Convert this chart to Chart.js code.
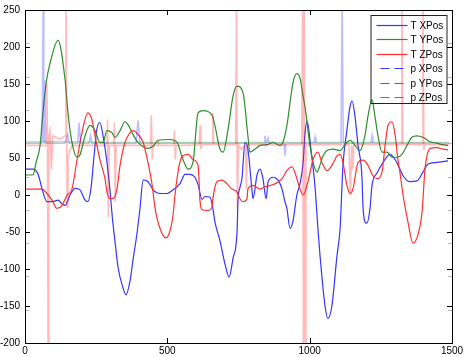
<!DOCTYPE html>
<html><head><meta charset="utf-8">
<script src="https://cdn.jsdelivr.net/npm/chart.js@4/dist/chart.umd.min.js"></script>
<style>html,body{margin:0;padding:0;background:#fff;}</style>
</head><body>
<canvas id="c" width="467" height="357"></canvas>
<script>
// ---- data ----
const xTicks = [0, 500, 1000, 1500];
const yTicks = [-200, -150, -100, -50, 0, 50, 100, 150, 200, 250];
const minorTicks = [1, 2, 3, 4, 5, 6, 7, 8, 9];
const seriesNames = ['T XPos', 'T YPos', 'T ZPos', 'p XPos', 'p YPos', 'p ZPos'];

const txT = [0,28,46,60,77,98,116,130,141,158,176,193,211,221,232,242,252,263,274,288,299,306,316,327,344,355,369,379,393,404,415,432,439,450,464,474,499,520,544,562,580,597,608,622,632,650,660,667,685,703,717,731,745,748,755,762,773,783,797,801,815,826,836,847,854,871,889,903,913,920,931,941,955,966,977,984,991,1005,1019,1029,1036,1054,1064,1078,1096,1107,1117,1131,1142,1149,1159,1170,1184,1187,1194,1201,1212,1219,1237,1258,1282,1300,1317,1328,1352,1377,1398,1416,1447,1468,1486];
const txV = [35,35,28,8,-9,-9,-7,-12,-14,0,9,7,-7,-9,10,50,88,98,80,44,5,-27,-62,-98,-125,-135,-116,-89,-53,-18,20,18,14,7,3,2,2,7,15,28,28,24,14,-6,-2,-3,-18,-36,-62,-94,-111,-85,-49,-9,10,22,71,62,8,-5,27,35,22,-5,18,24,20,8,-9,-18,-45,-36,0,15,44,85,100,60,10,-45,-80,-150,-167,-150,-82,-45,40,88,120,127,107,67,22,-13,-36,-38,-18,13,30,44,55,48,35,26,18,19,31,42,44,45,46];

const tyT = [0,28,39,53,63,74,88,116,141,151,165,183,193,211,228,246,263,274,288,306,316,334,351,362,379,397,429,450,467,509,534,555,573,590,608,625,657,667,685,696,713,731,745,766,783,790,808,826,850,871,896,906,920,941,955,966,977,987,998,1012,1026,1036,1047,1061,1082,1107,1124,1142,1159,1177,1194,1205,1219,1229,1240,1254,1272,1289,1307,1324,1342,1359,1377,1398,1423,1447,1465,1486];
const tyV = [27,27,44,67,111,151,178,209,155,111,71,51,54,80,94,87,71,71,87,84,78,87,99,95,82,71,63,66,74,75,71,48,35,44,111,114,108,94,62,58,88,134,147,138,80,58,62,67,68,71,67,71,94,151,164,158,134,110,75,44,31,40,53,60,62,60,68,74,67,60,80,107,129,107,80,58,58,51,51,55,67,78,80,78,72,70,68,67];

const tzT = [0,60,77,95,112,130,148,165,183,200,221,235,246,263,281,288,299,309,323,334,351,369,379,397,415,432,446,457,474,495,509,520,527,534,544,555,573,590,608,615,622,643,657,660,674,692,710,727,745,755,766,780,783,801,826,843,861,878,903,920,938,952,966,977,994,1012,1029,1043,1061,1078,1096,1107,1117,1131,1142,1152,1170,1187,1205,1222,1237,1254,1265,1275,1289,1300,1310,1317,1328,1345,1363,1381,1395,1405,1412,1423,1447,1468,1486];
const tzV = [8,8,2,-7,-18,-14,0,8,48,84,111,102,80,48,22,4,-5,-5,8,40,71,84,87,82,71,44,15,-18,-45,-58,-49,-27,0,22,44,53,55,48,40,-9,-20,-21,-16,-5,18,20,15,8,4,-5,-9,-5,8,13,8,11,13,15,22,33,38,26,8,0,18,48,58,44,33,40,53,55,44,13,2,8,44,47,40,26,22,31,67,94,99,82,48,31,0,-36,-65,-53,-22,35,53,63,64,62,61];

const pxT = [0,60,64,66,70,72,74,140,150,155,185,190,195,225,230,235,390,397,404,840,843,847,854,858,910,913,917,1015,1019,1022,1110,1114,1118,1215,1219,1222,1490];
const pxV = [70,70,260,70,155,70,70,70,82,70,70,98,70,70,80,70,70,101,70,70,80,68,77,70,70,53,70,70,78,70,70,260,70,70,80,70,70];

const pyT = [0,150,300,450,600,750,900,1050,1200,1350,1490];
const pyV = [72,72,71,71,71,71,71,71,71,71,71];

const pzT = [0,74,77,79,81,84,88,93,98,123,141,144,148,151,158,165,288,290,293,296,312,314,317,320,441,444,447,450,464,467,470,523,525,528,531,612,615,618,621,657,660,663,740,743,746,750,760,775,778,781,972,975,978,981,984,987,1138,1143,1148,1152,1155,1321,1324,1327,1395,1398,1401,1404,1490];
const pzV = [67,67,151,67,-210,80,87,35,80,75,80,260,-16,51,60,67,67,102,-30,67,67,98,-9,67,67,108,48,67,67,74,67,67,87,48,67,68,94,62,68,68,111,68,68,260,-20,68,62,68,8,68,68,260,-210,260,-210,68,68,0,68,35,68,68,260,68,68,260,61,68,68];

// ---- styles ----
const mainColors = ['#3535ff', '#2b8f2b', '#ff3030'];
const paleColors = ['rgba(40,40,255,0.30)', 'rgba(40,160,40,0.33)', 'rgba(255,30,30,0.30)'];

function pts(t, v) { return t.map((x, i) => ({x: x, y: v[i]})); }

Chart.defaults.font.family = '"Liberation Sans", Arial, sans-serif';
Chart.defaults.font.size = 10;
Chart.defaults.color = '#000';

const deco = {
  id: 'deco',
  afterDraw(chart) {
    const ctx = chart.ctx, a = chart.chartArea;
    const xs = chart.scales.x, ys = chart.scales.y, y2 = chart.scales.y2;
    ctx.save();
    ctx.setLineDash([]);
    ctx.lineWidth = 1;
    // secondary (gray) tick marks
    ctx.strokeStyle = '#b4b4b4';
    ctx.beginPath();
    for (const v of minorTicks) {
      const py = Math.round(y2.getPixelForValue(v)) + 0.5;
      ctx.moveTo(a.left, py); ctx.lineTo(a.left + 4, py);
      ctx.moveTo(a.right, py); ctx.lineTo(a.right - 4, py);
    }
    ctx.stroke();
    // major inward ticks
    ctx.strokeStyle = '#000';
    ctx.beginPath();
    for (const v of yTicks) {
      const py = Math.round(ys.getPixelForValue(v)) + 0.5;
      ctx.moveTo(a.left, py); ctx.lineTo(a.left + 5, py);
      ctx.moveTo(a.right, py); ctx.lineTo(a.right - 5, py);
    }
    for (const v of xTicks) {
      const px = Math.round(xs.getPixelForValue(v)) + 0.5;
      ctx.moveTo(px, a.bottom); ctx.lineTo(px, a.bottom - 5);
      ctx.moveTo(px, a.top); ctx.lineTo(px, a.top + 5);
    }
    ctx.stroke();
    ctx.strokeRect(a.left + 0.5, a.top + 0.5, a.right - a.left, a.bottom - a.top);
    // legend
    const lx = a.right - 81, ly = a.top + 5.5;
    ctx.strokeStyle = '#222';
    ctx.strokeRect(lx, ly, 76, 88);
    ctx.font = '10px "Liberation Sans", Arial, sans-serif';
    ctx.textBaseline = 'middle';
    ctx.textAlign = 'left';
    for (let i = 0; i < seriesNames.length; i++) {
      const ry = Math.round(ly + 9 + i * 14.5) + 0.5;
      const c = mainColors[i % 3];
      ctx.strokeStyle = c;
      ctx.lineWidth = 1.2;
      ctx.beginPath();
      if (i < 3) {
        ctx.setLineDash([]);
        ctx.moveTo(lx + 5.5, ry); ctx.lineTo(lx + 36.5, ry);
      } else {
        ctx.setLineDash([9, 5]);
        ctx.moveTo(lx + 9.5, ry); ctx.lineTo(lx + 33.5, ry);
      }
      ctx.stroke();
      ctx.setLineDash([]);
      ctx.fillStyle = '#000';
      ctx.fillText(seriesNames[i], lx + 39.5, ry + 0.5);
    }
    ctx.restore();
  }
};

function mainDs(i, t, v, order) {
  return { label: seriesNames[i], data: pts(t, v), borderColor: mainColors[i], borderWidth: 1.2,
    pointRadius: 0, fill: false, cubicInterpolationMode: 'monotone', order: order };
}
function paleDs(i, t, v, order) {
  return { label: seriesNames[i + 3], data: pts(t, v), borderColor: paleColors[i], borderWidth: 1.6,
    pointRadius: 0, fill: false, tension: 0, order: order };
}

new Chart(document.getElementById('c'), {
  type: 'line',
  data: {
    datasets: [
      mainDs(0, txT, txV, 3),
      mainDs(1, tyT, tyV, 2),
      mainDs(2, tzT, tzV, 1),
      paleDs(0, pxT, pxV, -1),
      paleDs(1, pyT, pyV, -2),
      paleDs(2, pzT, pzV, -3)
    ]
  },
  options: {
    responsive: false,
    animation: false,
    devicePixelRatio: 1,
    events: [],
    layout: { padding: { left: 0, right: 15, top: 6, bottom: 0 } },
    plugins: { legend: { display: false }, tooltip: { enabled: false } },
    scales: {
      x: {
        type: 'linear', min: 0, max: 1500,
        afterBuildTicks: s => { s.ticks = xTicks.map(v => ({ value: v })); },
        ticks: { padding: 3, maxRotation: 0, autoSkip: false, color: '#000', font: { size: 10, lineHeight: 1 },
          callback: v => String(v) },
        grid: { display: false, drawTicks: false },
        border: { display: false },
        afterFit: s => { s.height = 14; }
      },
      y: {
        type: 'linear', min: -200, max: 250,
        afterBuildTicks: s => { s.ticks = yTicks.map(v => ({ value: v })); },
        ticks: { padding: 5, autoSkip: false, color: '#000', font: { size: 10, lineHeight: 1 },
          callback: v => String(v) },
        grid: { display: false, drawTicks: false },
        border: { display: false },
        afterFit: s => { s.width = 25; }
      },
      y2: {
        type: 'linear', position: 'right', min: 0, max: 10, display: false
      }
    }
  },
  plugins: [deco]
});
</script>
</body></html>
